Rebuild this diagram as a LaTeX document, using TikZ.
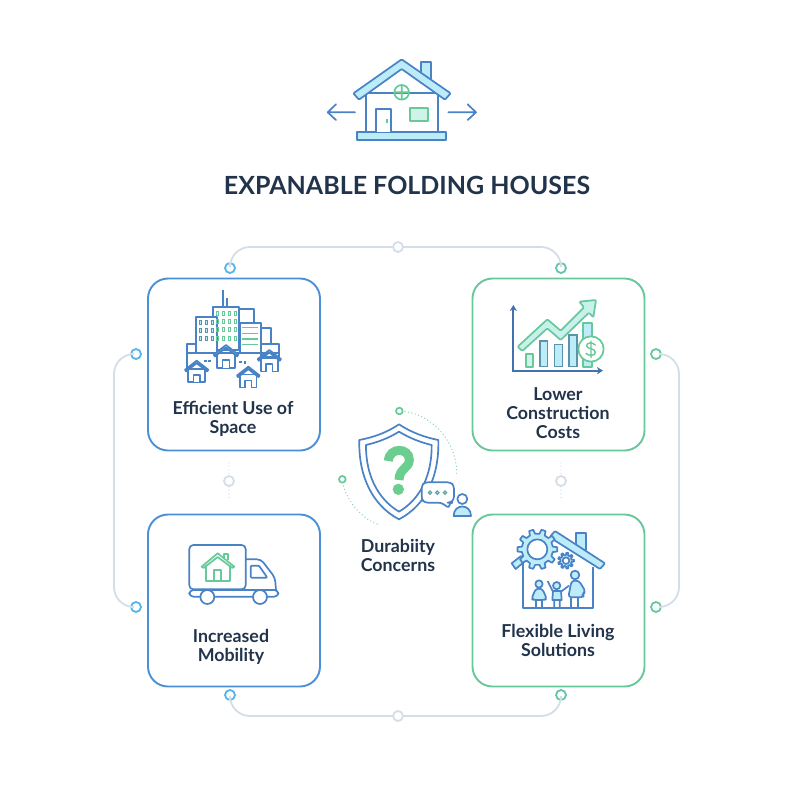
\documentclass[tikz,border=0pt]{standalone}
\usepackage{fontspec}
\setmainfont{Lato}
\usetikzlibrary{calc}
\definecolor{cblue}{HTML}{4A90D6}
\definecolor{cgreen}{HTML}{66C99A}
\definecolor{qgreen}{HTML}{6ACF8E}
\definecolor{ink}{HTML}{4A82C6}
\definecolor{navy}{HTML}{22344C}
\definecolor{lfill}{HTML}{BCECF7}
\definecolor{lgreen}{HTML}{CFF3E8}
\definecolor{wire}{HTML}{D3DEE8}
\definecolor{ringb}{HTML}{55B4EC}
\definecolor{teal}{HTML}{5C93A8}
\tikzset{
 card/.style={draw=#1,line width=1.9pt,rounded corners=20pt,minimum width=172pt,minimum height=172pt,fill=white,inner sep=0pt},
 label/.style={font=\fontsize{17.8}{19}\selectfont\bfseries,text=navy,align=center,inner sep=0pt},
 ringnode/.style={circle,draw=#1,line width=1.8pt,fill=white,minimum size=10pt,inner sep=0pt},
 wireline/.style={draw=wire,line width=1.8pt,rounded corners=20pt},
 ico/.style={draw=ink,line width=1.7pt,line join=round},
 icg/.style={draw=cgreen,line width=1.7pt,line join=round},
 dots/.style={draw=#1,line width=1.4pt,line cap=round,dash pattern=on 0pt off 3.5pt},
}
\newcommand{\minihouse}[3]{% cx, apexy, halfwidth (zoom units)
 \draw[ico,fill=white] ({#1-#3*.72},{#2+#3*.7}) rectangle ({#1+#3*.72},{#2+#3*1.85});
 \draw[ico,fill=lfill] ({#1-#3},{#2+#3*.78}) -- (#1,#2) -- ({#1+#3},{#2+#3*.78}) -- ({#1+#3*.9},{#2+#3*.92}) -- (#1,{#2+#3*.22}) -- ({#1-#3*.9},{#2+#3*.92}) -- cycle;
 \draw[ico,fill=white] ({#1-#3*.28},{#2+#3*1.85}) -- ({#1-#3*.28},{#2+#3*1.22}) -- ({#1+#3*.28},{#2+#3*1.22}) -- ({#1+#3*.28},{#2+#3*1.85});
}
\newcommand{\gearicon}[6]{% cx cy R r teeth hole
 \begin{scope}[shift={(#1,#2)}]
 \pgfmathsetmacro{\st}{360/#5}
 \pgfmathsetmacro{\lastt}{#5-1}
 \draw[ico,fill=lfill] (-.28*\st:#4) \foreach \i in {0,...,\lastt}{ -- ({(\i-.17)*\st}:#3) -- ({(\i+.17)*\st}:#3) -- ({(\i+.28)*\st}:#4) -- ({(\i+.72)*\st}:#4)} -- cycle;
 \draw[ico,fill=white] (0,0) circle (#6);
 \end{scope}
}
\begin{document}
\begin{tikzpicture}[x=1pt,y=-1pt]
\useasboundingbox[fill=white] (0,0) rectangle (800,800);

% top house icon
\begin{scope}[shift={(310,50)},scale=.3333]
 \draw[ico,fill=white] (167,130) rectangle (383,247);
 \draw[ico,fill=lfill] (332,35) rectangle (362,100);
 \draw[ico,fill=lfill,rounded corners=1pt] (275,28) -- (422,130) -- (405,149) -- (275,57) -- (147,149) -- (130,130) -- cycle;
 \draw[ico,fill=lfill] (142,247) rectangle (409,270);
 \draw[ico,fill=white] (197,247) -- (197,176) -- (242,176) -- (242,247);
 \fill[cgreen] (228,208) rectangle (233,219);
 \draw[icg,fill=lgreen] (299,175) rectangle (354,213);
 \draw[icg] (275,127) circle (22) (253,127) -- (297,127) (275,105) -- (275,149);
 \draw[ico,line cap=round] (135,187) -- (53,187) (78,163) -- (53,187) -- (78,210);
 \draw[ico,line cap=round] (415,187) -- (498,187) (473,163) -- (498,187) -- (473,210);
\end{scope}

\node[font=\fontsize{25}{28}\selectfont\bfseries,text=navy,inner sep=0pt] (title) at (407,185) {EXPANABLE FOLDING HOUSES};

% connector rings
\node[ringnode=ringb] (rtl) at (230,268) {};
\node[ringnode=cgreen!80!ringb] (rtr) at (561,268) {};
\node[ringnode=wire] (rtm) at (398,247) {};
\node[ringnode=ringb] (rbl) at (230,695) {};
\node[ringnode=cgreen!80!ringb] (rbr) at (561,695) {};
\node[ringnode=wire] (rbm) at (398,716) {};
\node[ringnode=ringb] (rlt) at (136,354) {};
\node[ringnode=ringb] (rlb) at (136,607) {};
\node[ringnode=cgreen] (rrt) at (656,354) {};
\node[ringnode=cgreen] (rrb) at (656,607) {};
\node[ringnode=wire] (dl) at (229,481) {};
\node[ringnode=wire] (dr) at (561,481) {};
\coordinate (ltop) at (114,354);
\coordinate (lbot) at (114,607);
\coordinate (rtop) at (679,354);
\coordinate (rbot) at (679,607);
\coordinate (dlt) at (229,463);
\coordinate (dlb) at (229,500);
\coordinate (drt) at (561,463);
\coordinate (drb) at (561,500);

\draw[wireline] (rtl.north) |- (rtm.west);
\draw[wireline] (rtm.east) -| (rtr.north);
\draw[wireline] (rbl.south) |- (rbm.west);
\draw[wireline] (rbm.east) -| (rbr.south);
\draw[wireline] (rlt.west) -- (ltop) -- (lbot) -- (rlb.west);
\draw[wireline] (rrt.east) -- (rtop) -- (rbot) -- (rrb.east);
\draw[dots=wire] (dlt) -- (dl.north);
\draw[dots=wire] (dl.south) -- (dlb);
\draw[dots=wire] (drt) -- (dr.north);
\draw[dots=wire] (dr.south) -- (drb);

% cards
\node[card=cblue] (c1) at (234,364.5) {};
\node[card=cgreen] (c2) at (558.5,364.5) {};
\node[card=cblue] (c3) at (234,600.5) {};
\node[card=cgreen] (c4) at (558.5,600.5) {};

\node[label] (l1) at (233,419) {Efficient Use of\\Space};
\node[label] (l2) at (558,413) {Lower\\Construction\\Costs};
\node[label] (l3) at (231,647) {Increased\\Mobility};
\node[label] (l4) at (558,640) {Flexible Living\\Solutions};
\node[label] (l5) at (398,555) {Durabiity\\Concerns};

% city icon
\begin{scope}[shift={(170,285)},scale=.3333]
 \draw[ico] (158,15) -- (158,65) (172,38) -- (172,65);
 \draw[ico,fill=white] (208,73) rectangle (252,113);
 \draw[ico,fill=white] (272,130) rectangle (303,176);
 \draw[ico,fill=white] (50,176) rectangle (78,205);
 \draw[ico,fill=white] (272,176) rectangle (328,215);
 \draw[ico,fill=white] (128,65) rectangle (208,195);
 \draw[ico,fill=white] (78,97) rectangle (140,203);
 \draw[ico,fill=white] (210,113) rectangle (272,205);
 \draw[ico] (50,203) -- (328,203) (50,203) -- (50,250);
 \foreach \x in {142,162,180,197}\foreach \y in {85,110,135,160}
  \draw[draw=cgreen,line width=1pt] (\x-3,\y-6) rectangle (\x+3,\y+6);
 \foreach \x in {92,110,127}\foreach \y in {113,138,160}
  \draw[draw=teal,line width=1pt,fill=lfill] (\x-3,\y-6) rectangle (\x+3,\y+6);
 \foreach \y in {128,145,162,178}
  \draw[draw=cgreen,line width=1.2pt] (217,\y) -- (265,\y);
 \draw[ico,dash pattern=on 3pt off 1.5pt] (102,227) -- (127,227) (208,230) -- (228,230);
 \draw[ico] (226,230) -- (226,237);
 \minihouse{168}{180}{37}
 \minihouse{80}{227}{35}
 \minihouse{235}{245}{34}
 \minihouse{298}{195}{35}
\end{scope}

% chart icon
\begin{scope}[shift={(490,290)},scale=.3333]
 \draw[icg,fill=lgreen] (107,193) rectangle (130,230);
 \draw[draw=teal,line width=1.6pt,fill=lfill] (150,153) rectangle (173,230);
 \draw[draw=teal,line width=1.6pt,fill=lfill] (193,163) rectangle (217,230);
 \draw[draw=teal,line width=1.6pt,fill=lfill] (237,135) rectangle (261,230);
 \draw[icg,fill=lfill] (280,98) rectangle (305,230);
 \draw[icg,fill=lgreen!70!lfill,rounded corners=1pt] (83,170) -- (172,88) -- (212,122) -- (282,52) -- (268,35) -- (318,30) -- (310,82) -- (297,68) -- (212,150) -- (172,115) -- (97,183) -- cycle;
 \draw[icg,fill=white] (303,177) circle (38);
 \draw[draw=cgreen,line width=1.4pt,line cap=round] (316,165) .. controls (308,155) and (288,158) .. (290,168) .. controls (291,178) and (316,174) .. (316,187) .. controls (316,198) and (296,199) .. (288,190) (303,153) -- (303,203);
 \draw[draw=ink!80!navy,line width=1.8pt] (70,55) -- (70,242) -- (330,242);
 \fill[ink!80!navy] (70,45) -- (81,63) -- (70,58) -- (59,63) -- cycle;
 \fill[ink!80!navy] (339,242) -- (321,231) -- (326,242) -- (321,253) -- cycle;
\end{scope}

% shield icon
\begin{scope}[shift={(330,400)},scale=.3333]
 \draw[ico,fill=white] (207,73) .. controls (245,98) and (285,112) .. (325,120) .. controls (328,225) and (290,315) .. (207,358) .. controls (125,315) and (85,225) .. (88,120) .. controls (130,112) and (170,98) .. (207,73) -- cycle;
 \draw[ico,fill=white] (207,95) .. controls (240,115) and (272,127) .. (305,135) .. controls (306,220) and (275,295) .. (207,335) .. controls (140,295) and (107,220) .. (108,135) .. controls (142,127) and (175,115) .. (207,95) -- cycle;
 \draw[draw=qgreen,line width=9pt] (175,183) .. controls (178,140) and (238,142) .. (238,180) .. controls (238,205) and (207,205) .. (207,240);
 \fill[qgreen] (205,268) circle (17);
 \draw[ico,fill=white,rounded corners=3pt] (284,247) -- (362,247) -- (372,257) -- (372,298) -- (362,308) -- (358,308) -- (358,325) -- (334,308) -- (284,308) -- (275,298) -- (275,257) -- cycle;
 \foreach \x in {300,322,345}
  \draw[draw=teal!70!cgreen,line width=1.2pt] (\x,278) circle (5);
 \draw[ico,fill=white] (397,297) circle (15);
 \draw[ico,fill=lfill] (371,348) .. controls (371,310) and (423,310) .. (423,348) -- cycle;
 \draw[icg] (208,33) circle (10);
 \draw[icg] (37,238) circle (10);
 \draw[dots=cgreen!80!white] (225,35) .. controls (310,45) and (385,130) .. (380,230);
 \draw[dots=cgreen!80!white] (40,258) .. controls (55,310) and (100,360) .. (150,375);
\end{scope}

% truck icon
\begin{scope}[shift={(175,535)},scale=.3333]
 \draw[ico,rounded corners=4pt] (212,73) -- (258,73) -- (300,128) -- (303,165);
 \draw[ico,rounded corners=4pt] (43,163) -- (43,30) -- (212,30) -- (212,163) -- cycle;
 \draw[ico,rounded corners=4pt] (43,165) -- (43,185) -- (310,185) -- (310,165) -- cycle;
 \draw[ico,fill=white] (97,186) circle (21);
 \draw[ico,fill=white] (255,186) circle (21);
 \draw[ico,rounded corners=1pt] (227,92) -- (252,92) -- (277,128) -- (227,128) -- cycle;
 \draw[icg] (147,70) -- (147,57) -- (158,57) -- (158,76);
 \draw[icg] (92,90) -- (92,137) -- (165,137) -- (165,90);
 \draw[icg,line join=round] (80,95) -- (128,55) -- (178,95) -- (172,99) -- (128,66) -- (86,99) -- cycle;
 \draw[icg] (117,137) -- (117,105) -- (137,105) -- (137,137);
\end{scope}

% family icon
\begin{scope}[shift={(505,520)},scale=.3333]
 \draw[ico] (55,125) -- (55,263) -- (265,263) -- (265,140);
 \draw[ico,fill=lfill] (212,40) rectangle (242,90);
 \draw[ico,fill=lfill] (20,130) -- (48,108) -- (62,122) -- (32,147) -- cycle;
 \draw[ico,fill=lfill,rounded corners=1pt] (150,33) -- (300,130) -- (285,147) -- (150,62) -- (135,50) -- cycle;
 \gearicon{97}{88}{60}{47}{10}{30}
 \gearicon{183}{122}{24}{17}{9}{10}
 % left child
 \draw[ico,fill=lfill] (102,192) circle (11);
 \draw[ico,fill=lfill,rounded corners=3pt] (92,206) -- (112,206) -- (126,238) -- (114,240) -- (90,240) -- (79,238) -- cycle;
 \draw[ico] (93,240) -- (93,262) (111,240) -- (111,262);
 % middle child
 \draw[ico,fill=lfill] (155,197) circle (11);
 \draw[ico,fill=lfill] (144,213) -- (168,213) -- (170,240) -- (142,240) -- cycle;
 \draw[ico] (144,215) -- (128,183) (168,215) -- (192,197) (148,240) -- (148,262) (164,240) -- (164,262);
 % adult
 \draw[ico,fill=lfill] (210,165) circle (13);
 \draw[ico,fill=lfill,rounded corners=3pt] (200,182) -- (222,182) -- (242,215) -- (232,222) -- (236,232) -- (190,232) -- (196,200) -- cycle;
 \draw[ico] (198,232) -- (198,262) (218,232) -- (218,262);
\end{scope}
\end{tikzpicture}
\end{document}
